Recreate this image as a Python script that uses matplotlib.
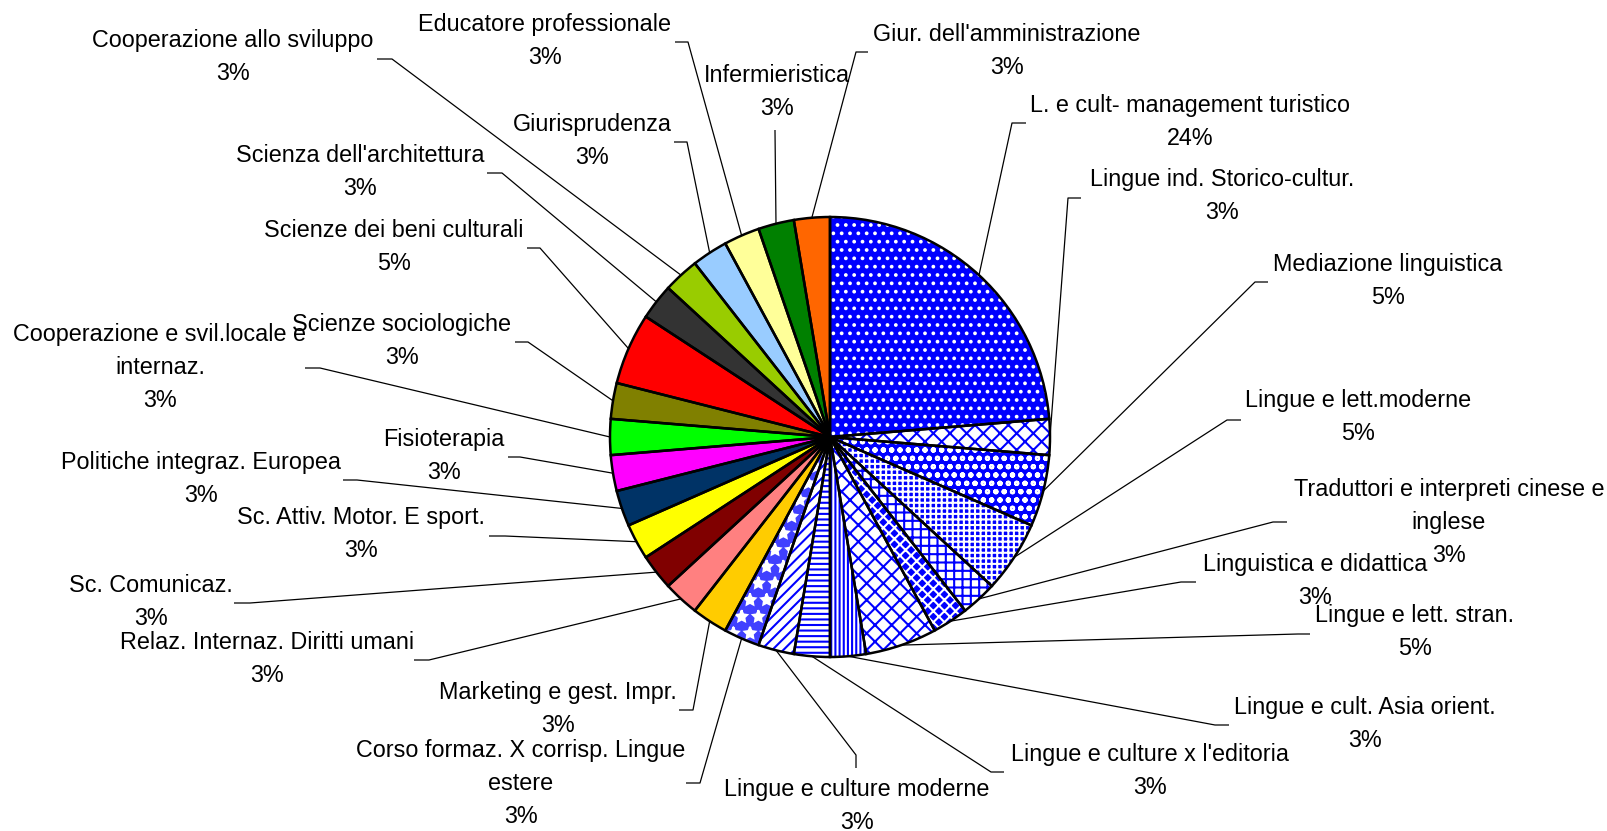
import matplotlib
matplotlib.use('Agg')
import matplotlib.pyplot as plt
import numpy as np

plt.rcParams['font.family'] = ['Liberation Sans', 'DejaVu Sans']
plt.rcParams['hatch.linewidth'] = 1.5

# ---- data ----
courses = [
    "L. e cult- management turistico",
    "Lingue ind. Storico-cultur.",
    "Mediazione linguistica",
    "Lingue e lett.moderne",
    "Traduttori e interpreti cinese e\ninglese",
    "Linguistica e didattica",
    "Lingue e lett. stran.",
    "Lingue e cult. Asia orient.",
    "Lingue e culture x l'editoria",
    "Lingue e culture moderne",
    "Corso formaz. X corrisp. Lingue\nestere",
    "Marketing e gest. Impr.",
    "Relaz. Internaz. Diritti umani",
    "Sc. Comunicaz.",
    "Sc. Attiv. Motor. E sport.",
    "Politiche integraz. Europea",
    "Fisioterapia",
    "Cooperazione e svil.locale e\ninternaz.",
    "Scienze sociologiche",
    "Scienze dei beni culturali",
    "Scienza dell'architettura",
    "Cooperazione allo sviluppo",
    "Giurisprudenza",
    "Educatore professionale",
    "Infermieristica",
    "Giur. dell'amministrazione",
]
counts = [9, 1, 2, 2, 1, 1, 2, 1, 1, 1, 1, 1, 1, 1, 1, 1, 1, 1, 1, 2, 1, 1, 1, 1, 1, 1]

# ---- styles ----
faces = ['#0000FF', '#FFFFFF', '#0000FF', '#0000FF', '#FFFFFF', '#0000FF', '#FFFFFF',
         '#FFFFFF', '#FFFFFF', '#FFFFFF', '#4040FF',
         '#FFCC00', '#FF8080', '#800000', '#FFFF00', '#003366', '#FF00FF', '#00FF00',
         '#808000', '#FF0000', '#333333', '#99CC00', '#99CCFF', '#FFFF99', '#008000', '#FF6600']
hatches = ['..', 'xx', 'oo', '+++', '++', 'xxx', 'xx', '||||', '---', '///', '*'] + [None] * 15
hcolors = ['white', '#0000FF', 'white', 'white', '#0000FF', 'white', '#0000FF',
           '#0000FF', '#0000FF', '#0000FF', 'white'] + [None] * 15
explode = [0.0] * 26
explode[15] = 0.03

# label layout in pixel coords: (text centre x, text top y, stub tail, stub elbow)
label_pos = [
    (1190, 94, (1026, 123), (1012, 123)),
    (1222, 168, (1081, 198), (1068, 198)),
    (1388, 253, (1268, 282), (1255, 282)),
    (1358, 389, (1241, 420), (1227, 420)),
    (1449, 478, (1287, 522), (1273, 522)),
    (1315, 553, (1196, 582), (1181, 582)),
    (1415, 604, (1310, 634), (1298, 634)),
    (1365, 696, (1229, 725), (1215, 725)),
    (1150, 743, (1004, 772), (991, 772)),
    (857, 778, (856, 768), (856, 755)),
    (521, 739, (686, 783), (700, 783)),
    (558, 681, (679, 710), (693, 710)),
    (267, 631, (414, 660), (429, 660)),
    (151, 574, (234, 603), (250, 603)),
    (361, 506, (489, 536), (505, 536)),
    (201, 451, (343, 480), (357, 480)),
    (444, 428, (508, 457), (520, 457)),
    (160, 323, (305, 368), (320, 368)),
    (402, 313, (515, 342), (528, 342)),
    (394, 219, (527, 248), (540, 248)),
    (360, 144, (487, 173), (502, 173)),
    (233, 29, (377, 59), (392, 59)),
    (592, 113, (674, 142), (687, 142)),
    (545, 13, (675, 42), (688, 42)),
    (777, 64, (775, 130), (775, 131)),
    (1007, 23, (868, 52), (856, 52)),
]

W, H = 1608, 831
fig = plt.figure(figsize=(W / 100, H / 100), dpi=100)
ax = fig.add_axes([0, 0, 1, 1])

center = (830, 437)
radius = 220

wedges, _ = ax.pie(counts, colors=faces, startangle=-90, counterclock=True,
                   center=center, radius=radius, explode=explode,
                   wedgeprops=dict(linewidth=0))
for w, h, hc in zip(wedges, hatches, hcolors):
    if h:
        w.set_hatch(h)
        w.set_edgecolor(hc)
        w.set_linewidth(0)

outline, _ = ax.pie(counts, colors=['none'] * len(counts), startangle=-90,
                    counterclock=True, center=center, radius=radius, explode=explode,
                    wedgeprops=dict(linewidth=1.8, edgecolor='black', fill=False))

ax.set_xlim(0, W)
ax.set_ylim(H, 0)
ax.set_aspect('equal')
ax.axis('off')

total = sum(counts)
for w, name, c, (tx, ty, tail, elbow) in zip(wedges, courses, counts, label_pos):
    pct = f"{round(100 * c / total)}%"
    ax.text(tx, ty, f"{name}\n{pct}", ha='center', va='top', multialignment='center',
            fontsize=16.8, linespacing=1.55, color='black')
    mid = np.deg2rad((w.theta1 + w.theta2) / 2)
    px = w.center[0] + w.r * np.cos(mid)
    py = w.center[1] + w.r * np.sin(mid)
    ax.plot([tail[0], elbow[0], px], [tail[1], elbow[1], py], color='black', lw=0.9,
            solid_capstyle='butt')

fig.savefig('out.png', dpi=100)
